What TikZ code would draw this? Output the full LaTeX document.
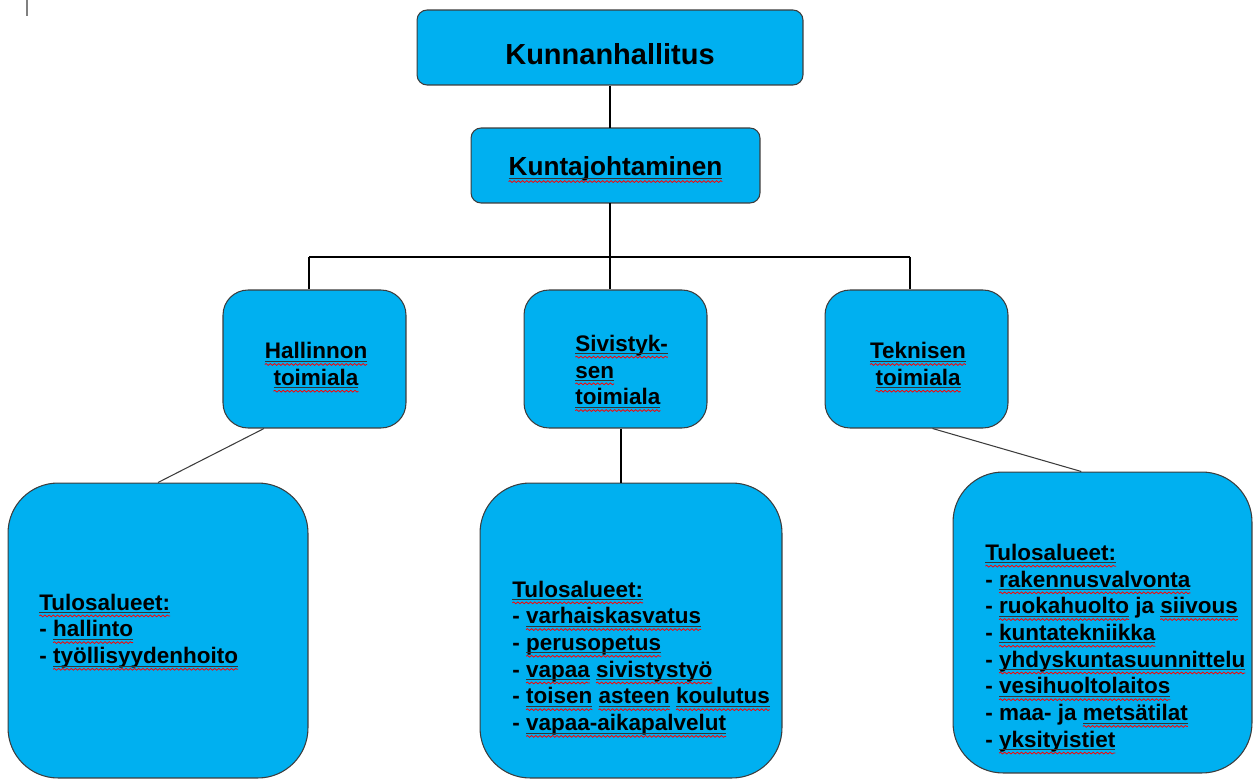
\documentclass[tikz,border=0pt]{standalone}
\usepackage{fontspec}
\setmainfont{Liberation Sans}
\usepackage{tikz}
\usetikzlibrary{decorations.pathmorphing}

\definecolor{boxblue}{RGB}{0,176,240}
\definecolor{boxedge}{RGB}{60,60,60}
\newsavebox{\typobox}
\newlength{\typowidth}
\newcommand{\typo}[1]{\sbox{\typobox}{#1}\setlength{\typowidth}{\wd\typobox}\rlap{\usebox{\typobox}}\tikz[baseline=0pt,sharp corners]{\useasboundingbox (0pt,0pt) rectangle (\typowidth,1pt);
  \draw[overlay,black!80,line width=0.5pt] (0pt,-1.4pt) -- (\typowidth,-1.4pt);
  \draw[overlay,red,line width=0.45pt,decorate,decoration={snake,amplitude=0.5pt,segment length=2.4pt}] (0pt,-3.3pt) -- (\typowidth,-3.3pt);}}
\newcommand{\lowered}[2]{\raisebox{-#1}[\height][\depth]{#2}}

\begin{document}
\begin{tikzpicture}[x=0.02cm,y=-0.02cm,line width=0.6pt]
\tikzstyle{every node}=[font=\fontsize{12.8}{15.2}\selectfont\bfseries];
\tikzstyle{orgbox}=[draw=boxedge,fill=boxblue];
\tikzstyle{headbox}=[orgbox,rounded corners=0.2cm,minimum height=1.5cm];
\tikzstyle{areabox}=[orgbox,rounded corners=0.5cm,minimum width=3.66cm,minimum height=2.76cm,align=center];
\tikzstyle{unitbox}=[orgbox,rounded corners=1cm,minimum width=6cm,minimum height=5.9cm];
\tikzstyle{list}=[align=left,anchor=west,inner sep=0pt];

\useasboundingbox (0,0) rectangle (1253,780);
\draw[gray,line width=1pt] (27,0) -- (27,16);

\node[headbox,minimum width=7.72cm,font=\fontsize{16.5}{20}\selectfont\bfseries] (hallitus) at (610,47.5) {\lowered{0.14cm}{Kunnanhallitus}};
\node[headbox,minimum width=5.78cm,font=\fontsize{14.9}{18}\selectfont\bfseries] (johto) at (615.5,165.5) {\lowered{0.07cm}{\typo{Kuntajohtaminen}}};

\node[areabox] (hallinto) at (314.5,359) {};
\node[list,anchor=center,align=center] (hallintoteksti) at (316,364) {\typo{Hallinnon}\\\typo{toimiala}};
\node[areabox] (sivistys) at (615.5,359) {};
\node[list] (sivistysteksti) at (575,370) {\typo{Sivistyk-}\\\typo{sen}\\\typo{toimiala}};
\node[areabox] (tekninen) at (916.5,359) {};
\node[list,anchor=center,align=center] (tekninenteksti) at (918,364) {\typo{Teknisen}\\\typo{toimiala}};

\node[unitbox] (hallintoyks) at (158,630.5) {};
\node[list] (hallintolista) at (39,631) {\typo{Tulosalueet:}\\- \typo{hallinto}\\- \typo{työllisyydenhoito}};
\node[unitbox,minimum width=6.04cm] (sivistysyks) at (631,630.5) {};
\node[list] (sivistyslista) at (512,658) {\typo{Tulosalueet:}\\- \typo{varhaiskasvatus}\\- \typo{perusopetus}\\- \typo{vapaa} \typo{sivistystyö}\\- \typo{toisen} \typo{asteen} \typo{koulutus}\\- \typo{vapaa-aikapalvelut}};
\node[unitbox,minimum width=5.98cm,minimum height=6.02cm] (teknyks) at (1102.5,622.5) {};
\node[list] (teknlista) at (985,648) {\typo{Tulosalueet:}\\- \typo{rakennusvalvonta}\\- \typo{ruokahuolto} ja \typo{siivous}\\- \typo{kuntatekniikka}\\- \typo{yhdyskuntasuunnittelu}\\- \typo{vesihuoltolaitos}\\- maa- ja \typo{metsätilat}\\- \typo{yksityistiet}};

\coordinate (haara1) at (309,257);
\coordinate (haara2) at (610,257);
\coordinate (haara3) at (910,257);
\draw (hallitus.south) -- (hallitus.south |- johto.north);
\draw (johto.south -| haara2) -- (haara2);
\draw (haara1) -- (haara3);
\draw (haara1) -- (haara1 |- hallinto.north);
\draw (haara2) -- (haara2 |- sivistys.north);
\draw (haara3) -- (haara3 |- tekninen.north);
\draw[boxedge] (hallinto.234) -- (hallintoyks.north);
\draw ([xshift=0.11cm]sivistys.south) -- ([xshift=0.11cm]sivistys.south |- sivistysyks.north);
\draw[boxedge] (tekninen.283) -- (teknyks.98);
\end{tikzpicture}
\end{document}
